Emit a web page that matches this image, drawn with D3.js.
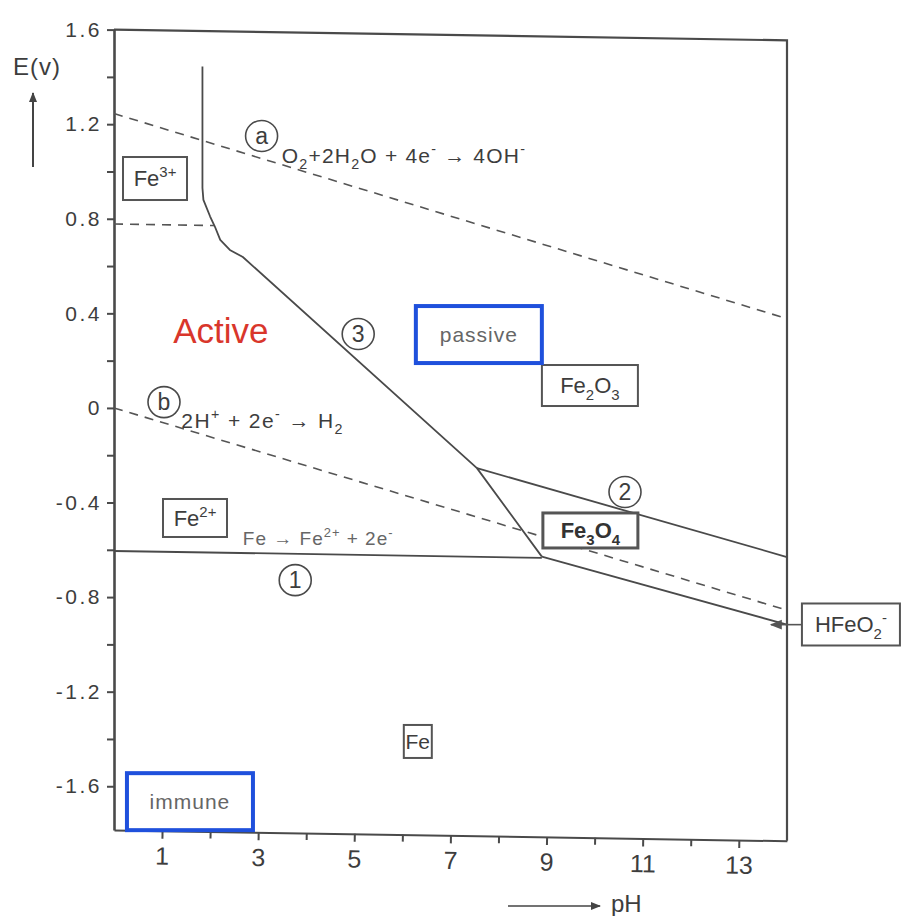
<!DOCTYPE html>
<html><head><meta charset="utf-8">
<script src="https://cdn.jsdelivr.net/npm/d3@7"></script>
<style>body{margin:0;background:#fff}svg{display:block}</style>
</head><body>
<svg id="c" width="901" height="916"></svg>
<script>
// ---------- data ----------
const pHTicks = [1, 3, 5, 7, 9, 11, 13];
const pHMinorTicks = [2, 4, 6, 8, 10, 12];
const eTicks = [-1.6, -1.2, -0.8, -0.4, 0, 0.4, 0.8, 1.2, 1.6];
const eMinorTicks = [-1.4, -1.0, -0.6, -0.2, 0.2, 0.6, 1.0, 1.4];

// boundaries [pH, E(V)]
const line1Fe = [[0, -0.605], [8.9, -0.605]];                 // Fe / Fe2+
const line2Fe3O4 = [[7.55, -0.23], [14, -0.585]];             // Fe3O4 / Fe2O3
const line3Fe2O3 = [[1.84, 1.45], [1.84, 0.936], [1.86, 0.886], [2.0, 0.816], [2.1, 0.773],
  [2.21, 0.718], [2.41, 0.676], [2.68, 0.647], [7.55, -0.23], [8.9, -0.6]];
const lineFeFe3O4 = [[8.9, -0.6], [14, -0.871]];              // Fe / Fe3O4 -> HFeO2-
const lineO2 = [[0, 1.245], [14, 0.423]];                     // (a) dashed
const lineH2 = [[0, 0], [14, -0.81]];                         // (b) dashed
const lineFe3Fe2 = [[0, 0.778], [2.08, 0.778]];               // Fe3+/Fe2+ dashed

// ---------- layout ----------
const svg = d3.select("#c");
const X0 = 114, X1 = 787, YT = 29.6, YB = 830;
const SK = 0.016; // slight scan skew of the original
const x = d3.scaleLinear().domain([0, 14]).range([X0, X1]);
const y = d3.scaleLinear().domain([-1.785, 1.6]).range([YB, YT]);
const P = (ph, e) => { const px = x(ph); return [px, y(e) + SK * (px - X0)]; };
const ink = "#4a4a4a", txt = "#3d3d3d";
const font = "'Liberation Sans', Arial, sans-serif";

const defs = svg.append("defs");
defs.append("marker").attr("id", "ah").attr("viewBox", "0 0 10 10").attr("refX", 9).attr("refY", 5)
  .attr("markerWidth", 10).attr("markerHeight", 10).attr("markerUnits", "userSpaceOnUse")
  .attr("orient", "auto").append("path").attr("d", "M0,1 L10,5 L0,9 Z").attr("fill", "#444");
defs.append("marker").attr("id", "ah2").attr("viewBox", "0 0 10 10").attr("refX", 9).attr("refY", 5)
  .attr("markerWidth", 18).attr("markerHeight", 12).attr("markerUnits", "userSpaceOnUse")
  .attr("orient", "auto").append("path").attr("d", "M0,1 L10,5 L0,9 Z").attr("fill", "#555");

// ---------- axes ----------
const fmt = v => (Math.abs(v) < 1e-9 ? "0" : v.toFixed(1));
const gy = svg.append("g").attr("transform", `translate(${X0},0)`)
  .call(d3.axisLeft(y).tickValues(eTicks).tickSize(7).tickSizeOuter(0).tickPadding(5).tickFormat(fmt));
svg.append("g").attr("transform", `translate(${X0},0)`)
  .call(d3.axisLeft(y).tickValues(eMinorTicks).tickSize(7).tickSizeOuter(0).tickFormat(""))
  .select(".domain").remove();
gy.selectAll("text").attr("font-family", font).attr("font-size", 21).attr("fill", txt)
  .attr("letter-spacing", 2.5).attr("dx", 0);

const rot = Math.atan(SK) * 180 / Math.PI;
const gx = svg.append("g").attr("transform", `translate(0,${YB}) rotate(${rot},${X0},0)`)
  .call(d3.axisBottom(x).tickValues(pHTicks).tickSize(8).tickSizeOuter(0).tickPadding(8).tickFormat(d3.format("d")));
svg.append("g").attr("transform", `translate(0,${YB}) rotate(${rot},${X0},0)`)
  .call(d3.axisBottom(x).tickValues(pHMinorTicks).tickSize(7).tickSizeOuter(0).tickFormat(""))
  .select(".domain").remove();
gx.selectAll("text").attr("font-family", font).attr("font-size", 25).attr("fill", txt);
svg.selectAll(".domain, .tick line").attr("stroke", ink).attr("stroke-width", 2);
gy.select(".domain").attr("stroke-width", 2.6);

// frame (top + right)
const lineGen = d3.line().x(d => P(d[0], d[1])[0]).y(d => P(d[0], d[1])[1]);
svg.append("path").attr("d", lineGen([[0, 1.6], [14, 1.6], [14, -1.785]]))
  .attr("fill", "none").attr("stroke", ink).attr("stroke-width", 2.2);

// ---------- boundary lines ----------
const solid = [line1Fe, line2Fe3O4, line3Fe2O3, lineFeFe3O4];
const dashed = [lineO2, lineH2, lineFe3Fe2];
solid.forEach(l => svg.append("path").attr("d", lineGen(l)).attr("fill", "none")
  .attr("stroke", ink).attr("stroke-width", 1.8).attr("stroke-linejoin", "round"));
dashed.forEach(l => svg.append("path").attr("d", lineGen(l)).attr("fill", "none")
  .attr("stroke", "#555").attr("stroke-width", 1.6).attr("stroke-dasharray", "9,7"));

// ---------- rich text helper ----------
function rich(g, str, fs, px, py, anchor, opts = {}) {
  const t = g.append("text").attr("x", px).attr("y", py).attr("font-size", fs)
    .attr("font-family", font).attr("fill", opts.fill || txt).attr("text-anchor", anchor)
    .attr("letter-spacing", opts.ls || 0).attr("font-weight", opts.weight || "normal");
  const re = /([_^])(\{[^}]*\}|.)|([^_^]+)/g;
  let m, cur = 0;
  while ((m = re.exec(str))) {
    if (m[3]) { t.append("tspan").attr("dy", -cur).text(m[3]); cur = 0; }
    else {
      const s = m[2].replace(/[{}]/g, "");
      const off = m[1] === "_" ? 0.3 * fs : -0.42 * fs;
      t.append("tspan").attr("dy", off - cur).attr("font-size", fs * 0.68).text(s);
      cur = off;
    }
  }
  return t;
}

const ann = svg.append("g");

// equations
const equations = [
  { s: "O_2+2H_2O + 4e^- \u2192 4OH^-", ph: 3.49, e: 1.047, fs: 21, ls: 1.2 },
  { s: "2H^+ + 2e^- \u2192 H_2", ph: 1.40, e: -0.08, fs: 21, ls: 1.4 },
  { s: "Fe \u2192 Fe^{2+} + 2e^-", ph: 2.68, e: -0.571, fs: 19, ls: 1, fill: "#666" }
];
equations.forEach(q => { const p = P(q.ph, q.e); rich(ann, q.s, q.fs, p[0], p[1], "start", { ls: q.ls, fill: q.fill }); });

// circled markers
const circles = [
  { s: "a", ph: 3.07, e: 1.160 }, { s: "b", ph: 1.04, e: 0.028 },
  { s: "1", ph: 3.77, e: -0.716 }, { s: "2", ph: 10.63, e: -0.321 }, { s: "3", ph: 5.08, e: 0.329 }
];
circles.forEach(c => {
  const p = P(c.ph, c.e);
  ann.append("ellipse").attr("cx", p[0]).attr("cy", p[1]).attr("rx", 16).attr("ry", 15.5)
    .attr("fill", "#fff").attr("stroke", ink).attr("stroke-width", 1.6);
  ann.append("text").attr("x", p[0]).attr("y", p[1] + 8).attr("text-anchor", "middle")
    .attr("font-family", font).attr("font-size", 23).attr("fill", txt).text(c.s);
});

// species boxes
const species = [
  { s: "Fe^{3+}", ph: 0.853, e: 0.973, w: 64, h: 43, fs: 22 },
  { s: "Fe^{2+}", ph: 1.685, e: -0.46, w: 64, h: 38, fs: 22 },
  { s: "Fe_2O_3", ph: 9.90, e: 0.127, w: 96, h: 41, fs: 22 },
  { s: "Fe_3O_4", ph: 9.91, e: -0.486, w: 95, h: 35, fs: 22, weight: "bold" },
  { s: "HFeO_2^-", ph: 15.33, e: -0.866, w: 98, h: 42, fs: 22 },
  { s: "Fe", ph: 6.32, e: -1.39, w: 28, h: 33, fs: 21 }
];
species.forEach(b => {
  const p = P(b.ph, b.e);
  ann.append("rect").attr("x", p[0] - b.w / 2).attr("y", p[1] - b.h / 2).attr("width", b.w).attr("height", b.h)
    .attr("fill", "#fff").attr("stroke", "#555").attr("stroke-width", b.weight ? 3 : 2);
  rich(ann, b.s, b.fs, p[0], p[1] + b.fs * 0.36, "middle", { weight: b.weight, fill: b.weight ? "#333" : txt });
});

// arrow from HFeO2- label to the line end
{
  const pb = P(15.33, -0.866), pe = P(14, -0.871);
  ann.append("line").attr("x1", pb[0] - 49).attr("y1", pe[1]).attr("x2", pe[0] - 16).attr("y2", pe[1])
    .attr("stroke", "#555").attr("stroke-width", 1.6).attr("marker-end", "url(#ah2)");
}

// region boxes
const regions = [
  { s: "passive", ph: 7.59, e: 0.335, w: 126, h: 57 },
  { s: "immune", ph: 1.58, e: -1.66, w: 126, h: 57 }
];
regions.forEach(r => {
  const p = P(r.ph, r.e);
  ann.append("rect").attr("x", p[0] - r.w / 2).attr("y", p[1] - r.h / 2).attr("width", r.w).attr("height", r.h)
    .attr("fill", "#fff").attr("stroke", "#1f50dc").attr("stroke-width", 4);
  ann.append("text").attr("x", p[0]).attr("y", p[1] + 7).attr("text-anchor", "middle")
    .attr("font-family", font).attr("font-size", 21).attr("fill", "#666").attr("letter-spacing", 1).text(r.s);
});

// Active
{
  const p = P(1.23, 0.279);
  ann.append("text").attr("x", p[0]).attr("y", p[1]).attr("font-family", font).attr("font-size", 35)
    .attr("fill", "#d9362b").text("Active");
}

// axis titles
svg.append("text").attr("x", 13).attr("y", 75).attr("font-family", font).attr("font-size", 24)
  .attr("fill", txt).attr("letter-spacing", 1).text("E(v)");
svg.append("line").attr("x1", 33).attr("y1", 167).attr("x2", 33).attr("y2", 93)
  .attr("stroke", "#444").attr("stroke-width", 2).attr("marker-end", "url(#ah)");
svg.append("line").attr("x1", 508).attr("y1", 906).attr("x2", 600).attr("y2", 906)
  .attr("stroke", "#444").attr("stroke-width", 1.6).attr("marker-end", "url(#ah)");
svg.append("text").attr("x", 611).attr("y", 912).attr("font-family", font).attr("font-size", 24)
  .attr("fill", txt).text("pH");
</script>
</body></html>
